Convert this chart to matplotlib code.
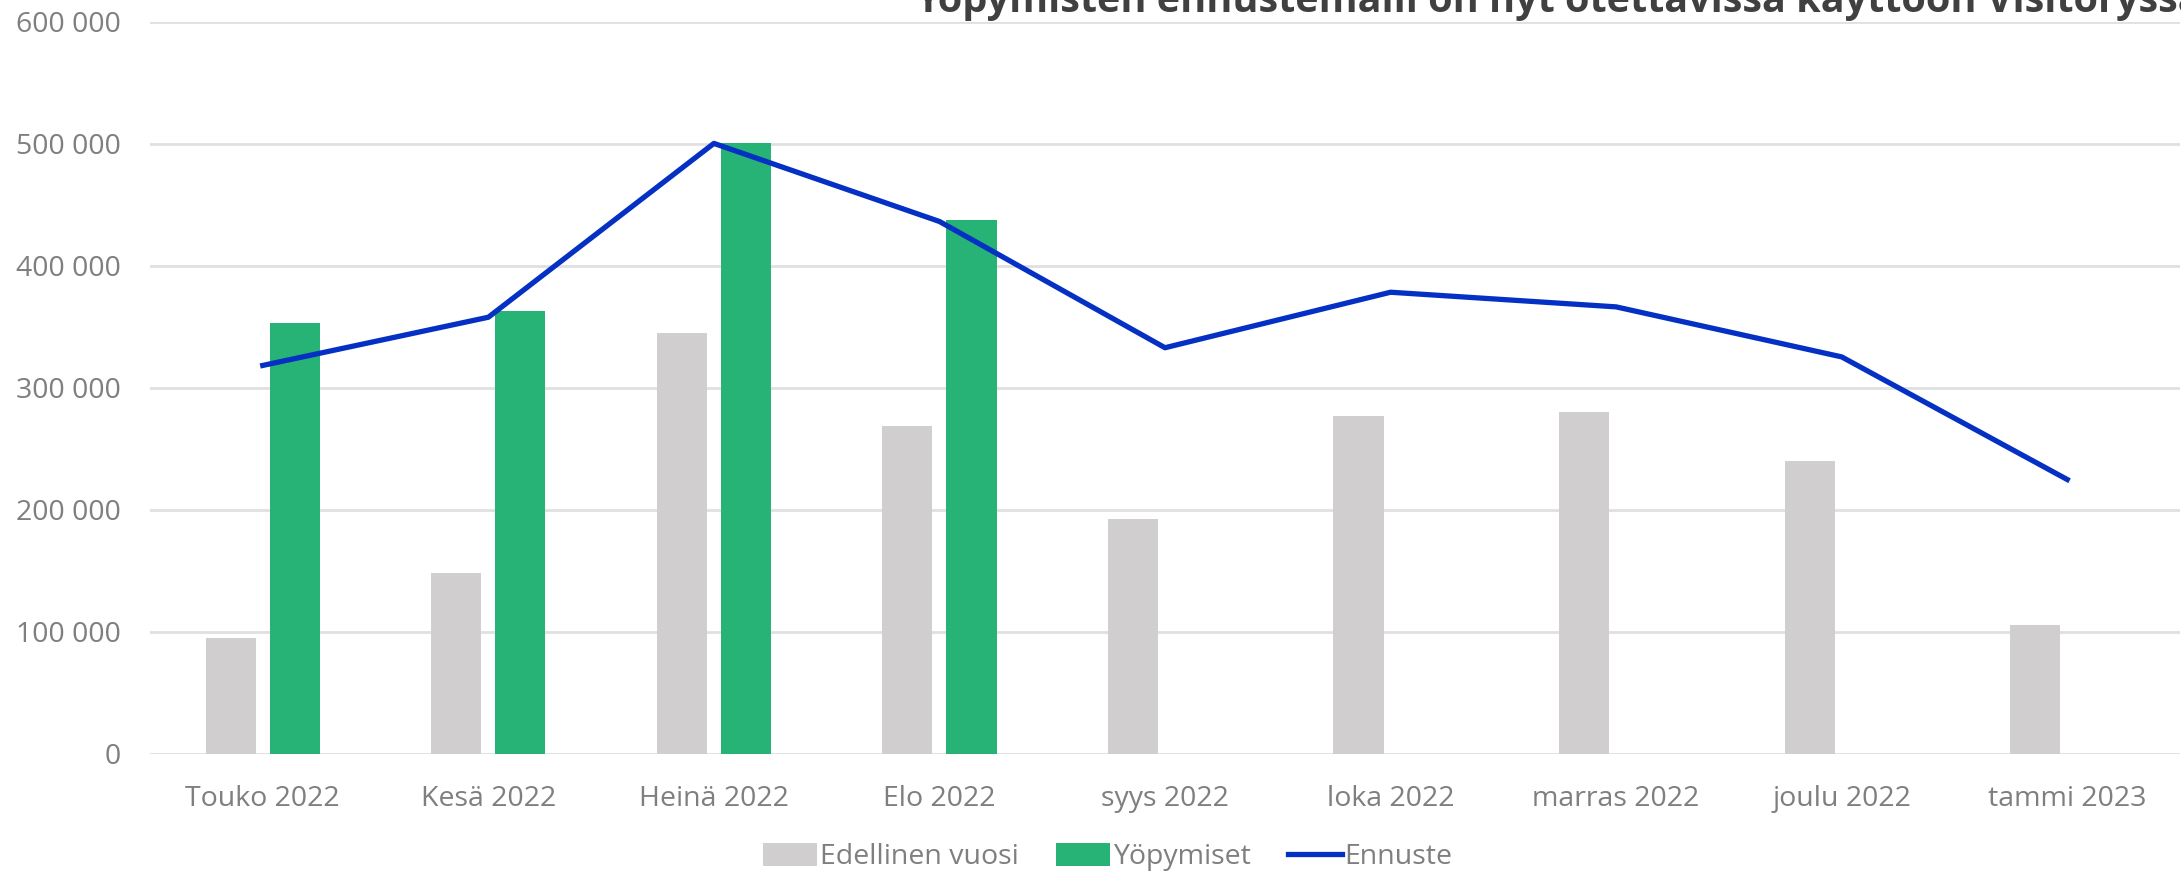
import matplotlib
matplotlib.use('Agg')
import matplotlib.pyplot as plt
import numpy as np
from matplotlib.ticker import FuncFormatter

plt.rcParams['font.family'] = ['Open Sans', 'DejaVu Sans']

# data
months = ['Touko 2022', 'Kesä 2022', 'Heinä 2022', 'Elo 2022', 'syys 2022',
          'loka 2022', 'marras 2022', 'joulu 2022', 'tammi 2023']
edellinen = [95000, 148000, 345000, 269000, 193000, 277000, 280000, 240000, 106000]
yopymiset = [353500, 363500, 501000, 438000]
ennuste = [318500, 358000, 500500, 436500, 333000, 378500, 366500, 325500, 225000]

title = 'Yöpymisten ennustemalli on nyt otettavissa käyttöön Visitoryssä'

GRAY = '#D0CECF'
GREEN = '#27B375'
BLUE = '#0530C4'
TXT = '#7F7F7F'

fig = plt.figure(figsize=(21.81, 8.74), dpi=100)
ax = fig.add_axes([150 / 2181, 1 - 754 / 874, 2030 / 2181, 732 / 874])

x = np.arange(len(months))
w = 0.222
off = 0.142
b1 = ax.bar(x - off, edellinen, width=w, color=GRAY, label='Edellinen vuosi', zorder=2)
b2 = ax.bar(x[:len(yopymiset)] + off, yopymiset, width=w, color=GREEN, label='Yöpymiset', zorder=2)
l1, = ax.plot(x, ennuste, color=BLUE, lw=3.8, label='Ennuste', zorder=3)

ax.set_xlim(-0.5, len(months) - 0.5)
ax.set_ylim(0, 600000)
ax.set_yticks(np.arange(0, 600001, 100000))
ax.yaxis.set_major_formatter(FuncFormatter(lambda v, p: f'{int(v):,}'.replace(',', ' ')))
ax.set_xticks(x)
ax.set_xticklabels(months)
ax.tick_params(axis='both', length=0, labelsize=20.5, colors=TXT)
ax.tick_params(axis='y', pad=21)
ax.tick_params(axis='x', pad=22)
ax.grid(axis='y', color='#E0E0E0', lw=2, zorder=0)
for s in ax.spines.values():
    s.set_visible(False)

# the title is clipped by the top and right edges in the reference
fig.text(915 / 2181, 1 - 12 / 874, title, fontsize=28.5, fontweight='bold',
         color='#404040', ha='left', va='baseline')

fig.legend([b1, b2, l1], ['Edellinen vuosi', 'Yöpymiset', 'Ennuste'],
           loc='center', bbox_to_anchor=(1108 / 2181, 1 - 857 / 874), ncol=3,
           frameon=False, fontsize=20.5, labelcolor=TXT, handlelength=1.9,
           handletextpad=0.1, columnspacing=1.3, handleheight=0.9)

fig.savefig('out.png', dpi=100)
